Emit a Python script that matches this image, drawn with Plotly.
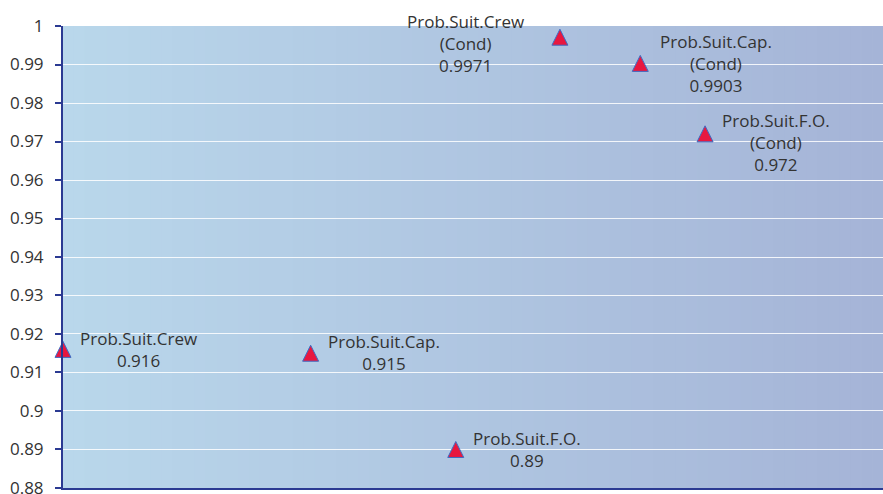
import plotly.graph_objects as go

# Suitability probabilities (position along the horizontal axis, value)
names = ["Prob.Suit.Crew", "Prob.Suit.Cap.", "Prob.Suit.F.O.",
         "Prob.Suit.Crew<br>(Cond)", "Prob.Suit.Cap.<br>(Cond)", "Prob.Suit.F.O.<br>(Cond)"]
x_pos = [0.0, 0.302, 0.479, 0.606, 0.704, 0.783]
values = [0.916, 0.915, 0.89, 0.9971, 0.9903, 0.972]
value_labels = ["0.916", "0.915", "0.89", "0.9971", "0.9903", "0.972"]

y_ticks = [0.88, 0.89, 0.9, 0.91, 0.92, 0.93, 0.94, 0.95, 0.96, 0.97, 0.98, 0.99, 1.0]
y_tick_text = ["0.88", "0.89", "0.9", "0.91", "0.92", "0.93", "0.94", "0.95",
               "0.96", "0.97", "0.98", "0.99", "1"]

# label placement: (xanchor, xshift, yshift)
label_place = [("left", 15, 0), ("left", 15, 1), ("left", 15, 0),
               ("right", -34, -6), ("left", 18, 0), ("left", 15, -9)]

text_color = "#333333"
axis_blue = "#2b3a92"
font_family = "Open Sans"

Y_RANGE = [0.87999, 1.00001]
PLOT_H = 494 - 26 - 6
MARKER_SIZE = 16
# the arrow-up symbol hangs below its anchor point; a twin axis lifted by half
# the symbol height keeps each triangle centred on its value
lift = (MARKER_SIZE / 2) * (Y_RANGE[1] - Y_RANGE[0]) / PLOT_H

fig = go.Figure()
fig.add_trace(go.Scatter(
    x=x_pos, y=values, mode="markers", yaxis="y2",
    marker=dict(symbol="arrow-up", size=MARKER_SIZE, color="#e8173f",
                line=dict(color="#3d6cc4", width=1)),
    cliponaxis=False, hoverinfo="skip", showlegend=False,
))

for name, xv, yv, lab, (anc, xs, ys) in zip(names, x_pos, values, value_labels, label_place):
    fig.add_annotation(
        x=xv, y=yv, xref="x", yref="y", text=f"{name}<br>{lab}",
        showarrow=False, xanchor=anc, yanchor="middle", align="center",
        xshift=xs, yshift=ys,
        font=dict(family=font_family, size=17, color=text_color),
    )

# horizontal colour gradient of the plot background, built from thin strips
n_strips = 75
c0 = (185, 215, 235)
c1 = (165, 180, 215)
for i in range(n_strips):
    t = i / (n_strips - 1)
    col = tuple(round(a + (b - a) * t) for a, b in zip(c0, c1))
    fig.add_shape(type="rect", xref="x domain", yref="y domain",
                  x0=i / n_strips, x1=(i + 1) / n_strips + 0.001, y0=0, y1=1,
                  fillcolor="rgb(%d,%d,%d)" % col, line_width=0, layer="below")

fig.update_layout(
    width=883, height=494,
    margin=dict(l=63, r=0, t=26, b=6),
    paper_bgcolor="white", plot_bgcolor="rgba(0,0,0,0)",
    font=dict(family=font_family, size=17, color=text_color),
    showlegend=False,
    yaxis2=dict(overlaying="y", range=[Y_RANGE[0] - lift, Y_RANGE[1] - lift],
                visible=False, automargin=False),
)
fig.update_xaxes(range=[0, 1], showgrid=False, zeroline=False, showticklabels=False,
                 showline=True, linecolor=axis_blue, linewidth=2, ticks="",
                 automargin=False)
fig.update_layout(yaxis=dict(
    range=Y_RANGE, tickvals=y_ticks, ticktext=y_tick_text,
    showgrid=True, gridcolor="rgba(255,255,255,0.85)", gridwidth=1,
    zeroline=False, showline=True, linecolor=axis_blue, linewidth=2,
    ticks="outside", ticklen=6, tickcolor=axis_blue, tickwidth=2,
    ticklabelstandoff=8, ticklabeloverflow="allow", automargin=False,
    tickfont=dict(family=font_family, size=17, color=text_color)))

fig.write_html("out.html")
